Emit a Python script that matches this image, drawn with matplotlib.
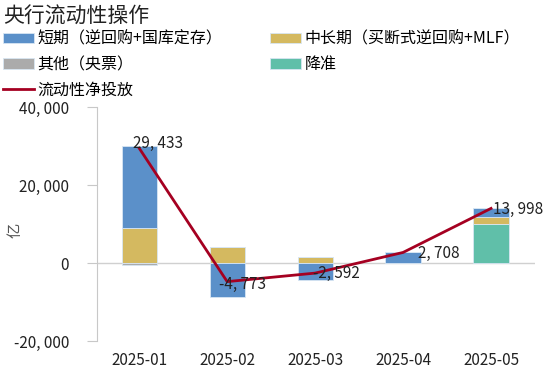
import numpy as np
import matplotlib
matplotlib.use('Agg')
import matplotlib.pyplot as plt
from matplotlib.ticker import FuncFormatter

plt.rcParams['font.family'] = ['Noto Sans CJK SC', 'DejaVu Sans']
plt.rcParams['axes.unicode_minus'] = False

months = ['2025-01', '2025-02', '2025-03', '2025-04', '2025-05']
short_term = [21033, -8800, -4242, 2708, 2298]   # 短期（逆回购+国库定存）
mid_long = [9000, 4027, 1650, 0, 1700]          # 中长期（买断式逆回购+MLF）
others = [-600, 0, 0, 0, 0]                     # 其他（央票）
rrr_cut = [0, 0, 0, 0, 10000]                   # 降准
net = [29433, -4773, -2592, 2708, 13998]        # 流动性净投放

# label offsets (pixels) for the net values
lab_dx = [-6, -8, -2, 15, 2]
lab_dy = [5, -3, 0, -1, -1]

c_blue = '#5b90c9'
c_gold = '#d4b960'
c_gray = '#ababab'
c_teal = '#60bfa9'
c_red = '#a50021'

fig = plt.figure(figsize=(5.5, 3.69), dpi=100)
ax = fig.add_axes([97/550, 1-341/369, (535-97)/550, (341-107)/369])

x = np.arange(len(months))
w = 0.4
pos_base = np.zeros(len(x))
neg_base = np.zeros(len(x))
handles = {}
for name, vals, col in [('降准', rrr_cut, c_teal), ('中长期（买断式逆回购+MLF）', mid_long, c_gold),
                        ('短期（逆回购+国库定存）', short_term, c_blue), ('其他（央票）', others, c_gray)]:
    vals = np.array(vals, dtype=float)
    bottoms = np.where(vals >= 0, pos_base, neg_base)
    b = ax.bar(x, vals, w, bottom=bottoms, color=col, edgecolor='#d8e6f3', linewidth=0.6, label=name, zorder=2)
    handles[name] = b
    pos_base += np.where(vals > 0, vals, 0)
    neg_base += np.where(vals < 0, vals, 0)

ln, = ax.plot(x, net, color=c_red, lw=2, zorder=4, label='流动性净投放')
handles['流动性净投放'] = ln

for i, v in enumerate(net):
    ax.annotate(f'{v:,}'.replace(',', ', '), (x[i], v), xytext=(lab_dx[i], lab_dy[i]),
                textcoords='offset pixels', ha='left', va='center', fontsize=11, color='#222222', zorder=5)

ax.axhline(0, color='#d0d0d0', lw=1, zorder=1)
ax.set_ylim(-20000, 40000)
ax.set_xlim(-0.48, 4.5)
ax.set_yticks([-20000, 0, 20000, 40000])
ax.yaxis.set_major_formatter(FuncFormatter(lambda v, p: f'{int(v):,}'.replace(',', ', ')))
ax.set_xticks(x)
ax.set_xticklabels(months)
for s in ['top', 'right', 'bottom']:
    ax.spines[s].set_visible(False)
ax.spines['left'].set_color('#c8c8c8')
ax.tick_params(axis='y', colors='#c8c8c8', labelcolor='#222222', labelsize=11, length=7, pad=13)
ax.tick_params(axis='x', length=0, labelsize=11, labelcolor='#222222', pad=8)

# unit label
fig.text(15/550, 1-230/369, '亿', fontsize=11, color='#555555', rotation=90, ha='center', va='center')

fig.text(0.005, 0.985, '央行流动性操作', fontsize=15, ha='left', va='top', color='#222222')

order = ['短期（逆回购+国库定存）', '其他（央票）', '流动性净投放', '中长期（买断式逆回购+MLF）', '降准']
fig.legend([handles[k] for k in order], order, ncol=2, loc='upper left',
           bbox_to_anchor=(0.0, 0.925), frameon=False, fontsize=11.5,
           handlelength=1.9, handleheight=0.6, handletextpad=0.25, columnspacing=3.0,
           labelspacing=0.52, borderpad=0.2, borderaxespad=0)

fig.savefig('out.png', dpi=100)
